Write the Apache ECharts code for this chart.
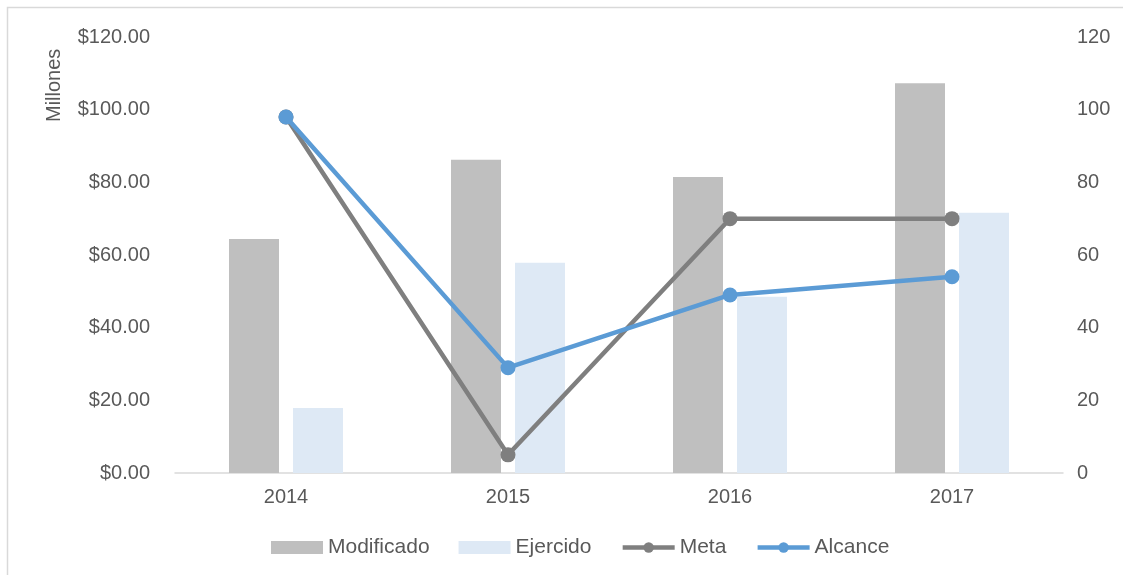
<!DOCTYPE html>
<html style="height: 100%">
<head>
<meta charset="utf-8">
<script src="https://cdn.jsdelivr.net/npm/echarts@6/dist/echarts.min.js"></script>
</head>
<body style="height: 100%; margin: 0; background: #fff">
<div id="container" style="width: 1123px; height: 575px"></div>
<script type="text/javascript">
var years = ['2014', '2015', '2016', '2017'];
var modificado = [64.4, 86.2, 81.5, 107.3];
var ejercido = [17.9, 57.9, 48.5, 71.6];
var meta = [98, 5, 70, 70];
var alcance = [98, 29, 49, 54];

var txt = '#595959';
var myChart = echarts.init(document.getElementById('container'));

var option = {
	backgroundColor: '#ffffff',
	animation: false,
	textStyle: { fontFamily: 'Liberation Sans, Arial, sans-serif' },
	graphic: [{
		type: 'rect',
		shape: { x: 7.5, y: 7.5, width: 1130, height: 580 },
		style: { fill: 'none', stroke: '#d9d9d9', lineWidth: 1.5 }
	}, {
		type: 'text',
		x: 44, y: 122,
		rotation: Math.PI / 2,
		style: { text: 'Millones', fill: txt, font: '20px "Liberation Sans", Arial, sans-serif' }
	}],
	legend: {
		bottom: 12,
		left: 266,
		itemGap: 29,
		itemWidth: 52,
		itemHeight: 13,
		textStyle: { color: txt, fontSize: 21 },
		data: [
			{ name: 'Modificado', icon: 'rect' },
			{ name: 'Ejercido', icon: 'rect' },
			{ name: 'Meta', itemStyle: { color: '#7f7f7f' }, lineStyle: { width: 4.5, color: '#7f7f7f' } },
			{ name: 'Alcance', itemStyle: { color: '#5b9bd5' }, lineStyle: { width: 4.5, color: '#5b9bd5' } }]
	},
	grid: { left: 175, right: 60, top: 37, bottom: 102 },
	xAxis: {
		type: 'category',
		data: years,
		axisLine: { lineStyle: { color: '#d9d9d9', width: 1.5 } },
		axisTick: { show: false },
		axisLabel: { color: txt, fontSize: 20, margin: 14 }
	},
	yAxis: [{
		type: 'value',
		min: 0, max: 120, interval: 20,
		axisLine: { show: false },
		axisTick: { show: false },
		splitLine: { show: false },
		axisLabel: {
			color: txt, fontSize: 20, margin: 25,
			formatter: function (v) { return '$' + v.toFixed(2); }
		}
	}, {
		type: 'value',
		min: 0, max: 120, interval: 20,
		axisLine: { show: false },
		axisTick: { show: false },
		splitLine: { show: false },
		axisLabel: { color: txt, fontSize: 20, margin: 14 }
	}],
	series: [{
		name: 'Modificado',
		type: 'bar',
		data: modificado,
		barWidth: 50,
		barGap: '28%',
		itemStyle: { color: '#bfbfbf' }
	}, {
		name: 'Ejercido',
		type: 'bar',
		data: ejercido,
		barWidth: 50,
		itemStyle: { color: '#dee9f5' }
	}, {
		name: 'Meta',
		type: 'line',
		yAxisIndex: 1,
		data: meta,
		symbol: 'circle',
		symbolSize: 15,
		lineStyle: { color: '#7f7f7f', width: 4.5 },
		itemStyle: { color: '#7f7f7f' },
		z: 3
	}, {
		name: 'Alcance',
		type: 'line',
		yAxisIndex: 1,
		data: alcance,
		symbol: 'circle',
		symbolSize: 15,
		lineStyle: { color: '#5b9bd5', width: 4.5 },
		itemStyle: { color: '#5b9bd5' },
		z: 4
	}]
};
myChart.setOption(option);
</script>
</body>
</html>
